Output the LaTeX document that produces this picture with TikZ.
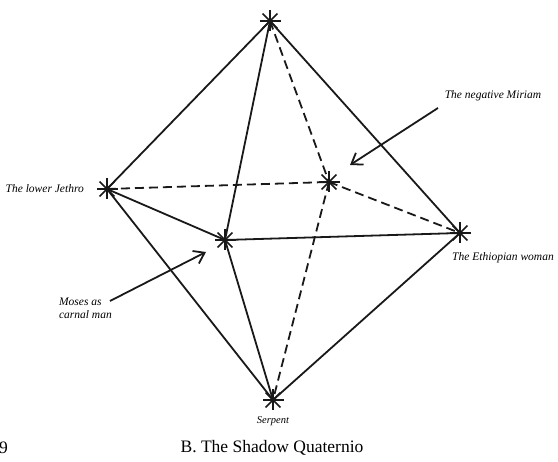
\documentclass[tikz,border=0pt]{standalone}
\usepackage{fontspec}
\setmainfont{Liberation Serif}
\usetikzlibrary{positioning,arrows.meta}

\begin{document}
\begin{tikzpicture}[
    x=1pt, y=-1pt,
    % --- Line styles ---
    solidedge/.style={line width=1.8pt, black!90},
    hiddenedge/.style={solidedge, dash pattern=on 9pt off 5pt},
    spoke/.style={line width=1.5pt, black!90},
    pointer/.style={-{Straight Barb[length=10pt, width=14pt, line width=1.8pt]}, line width=1.8pt, black!90},
    % --- Text styles ---
    lbl/.style={font=\fontsize{11.5}{12.5}\selectfont\itshape, inner sep=0pt, align=left},
    caption/.style={font=\fontsize{17.5}{20}\selectfont, inner sep=0pt},
  ]
    \useasboundingbox (0,0) rectangle (558,462);

    % ===================== VERTICES =====================
    \coordinate (top)     at (270,21);
    \coordinate (jethro)  at (107,189);
    \coordinate (miriam)  at (329,182);
    \coordinate (moses)   at (225,240);
    \coordinate (ethiop)  at (460,233);
    \coordinate (serpent) at (273,400);

    % ===================== VISIBLE EDGES =====================
    \draw[solidedge] (top) -- (jethro);
    \draw[solidedge] (top) -- (moses);
    \draw[solidedge] (top) -- (ethiop);
    \draw[solidedge] (jethro) -- (moses);
    \draw[solidedge] (moses) -- (ethiop);
    \draw[solidedge] (jethro) -- (serpent);
    \draw[solidedge] (moses) -- (serpent);
    \draw[solidedge] (ethiop) -- (serpent);

    % ===================== HIDDEN EDGES =====================
    \draw[hiddenedge] (top) -- (miriam);
    \draw[hiddenedge] (jethro) -- (miriam);
    \draw[hiddenedge] (miriam) -- (ethiop);
    \draw[hiddenedge] (miriam) -- (serpent);

    % ===================== STARS =====================
    \foreach \v in {top,jethro,miriam,moses,ethiop,serpent}
      \foreach \a in {0,45,...,315}
        \draw[spoke] (\v) -- ++(\a:10.5);

    % ===================== LABELS =====================
    \node[lbl, anchor=east]  (ljethro)  at (84,189)  {The lower Jethro};
    \node[lbl]               (lmiriam)  at (493,96)  {The negative Miriam};
    \node[lbl]               (lethiop)  at (503,258) {The Ethiopian woman};
    \node[lbl, anchor=north east] (lmoses) at (112,298) {Moses as\\carnal man};
    \node[lbl, font=\fontsize{10.5}{12}\selectfont\itshape,
          below=16pt of serpent]       (lserpent) {Serpent};

    % ===================== POINTERS =====================
    \coordinate (mirtail)   at (438,108);
    \coordinate (mirtip)    at (350,165);
    \coordinate (mostail)   at (110,301);
    \coordinate (mostip)    at (206,252);
    \draw[pointer] (mirtail) -- (mirtip);
    \draw[pointer] (mostail) -- (mostip);

    % ===================== CAPTION =====================
    \node[caption, anchor=west] (pagenum) at (-1,448) {9};
    \node[caption]              (title)   at (272,448) {B. The Shadow Quaternio};

  \end{tikzpicture}
\end{document}
